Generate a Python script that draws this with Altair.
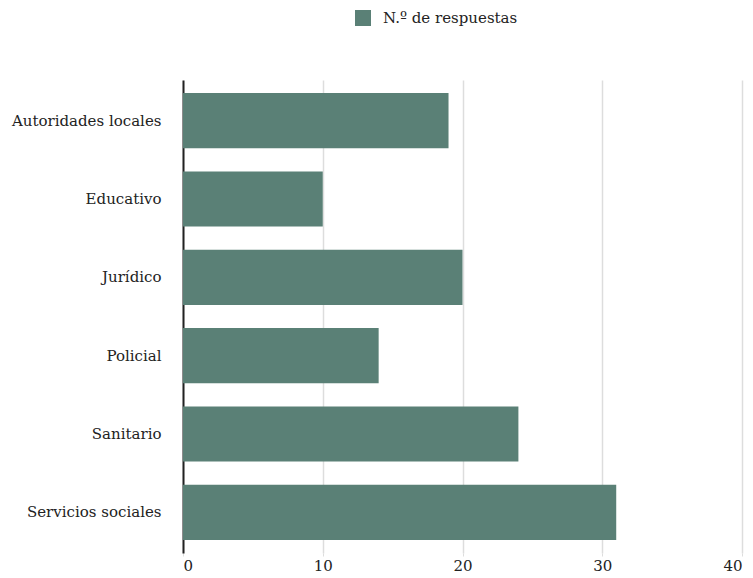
import altair as alt
import pandas as pd

# Number of responses per sector
sectors = ["Autoridades locales", "Educativo", "Jurídico", "Policial", "Sanitario", "Servicios sociales"]
responses = [19, 10, 20, 14, 24, 31]
series_name = "N.º de respuestas"

df = pd.DataFrame({"sector": sectors, "value": responses, "serie": [series_name] * len(sectors)})

FONT = "DejaVu Serif"
BAR = "#5a8076"

chart = (
    alt.Chart(df)
    .mark_bar(color=BAR)
    .encode(
        y=alt.Y(
            "sector:N",
            sort=sectors,
            title=None,
            scale=alt.Scale(paddingInner=0.295, paddingOuter=0.167),
            axis=alt.Axis(
                domain=True,
                domainColor="#222222",
                domainWidth=2,
                ticks=False,
                labelPadding=22,
                labelFont=FONT,
                labelFontSize=15,
                labelColor="#222222",
                grid=False,
            ),
        ),
        x=alt.X(
            "value:Q",
            title=None,
            scale=alt.Scale(domain=[0, 40], nice=False),
            axis=alt.Axis(
                values=[0, 10, 20, 30, 40],
                domain=False,
                ticks=True,
                tickSize=3,
                tickColor="#dddddd",
                grid=True,
                gridColor="#dddddd",
                gridWidth=1.5,
                labelPadding=2,
                labelFont=FONT,
                labelFontSize=15,
                labelColor="#222222",
                labelBaseline="top",
            ),
        ),
        fill=alt.Fill(
            "serie:N",
            scale=alt.Scale(range=[BAR]),
            legend=alt.Legend(
                title=None,
                orient="none",
                legendX=172,
                legendY=-70,
                symbolType="square",
                symbolSize=256,
                symbolStrokeWidth=0,
                labelFont=FONT,
                labelFontSize=15,
                labelColor="#222222",
                labelOffset=12,
            ),
        ),
    )
    .properties(
        width=559,
        height=473,
        padding={"left": 183, "top": 80, "right": 11, "bottom": 25},
        autosize=alt.AutoSizeParams(type="none"),
    )
    .configure_view(stroke=None)
)

chart.save("out.html", embed_options={"renderer": "svg", "actions": False})
